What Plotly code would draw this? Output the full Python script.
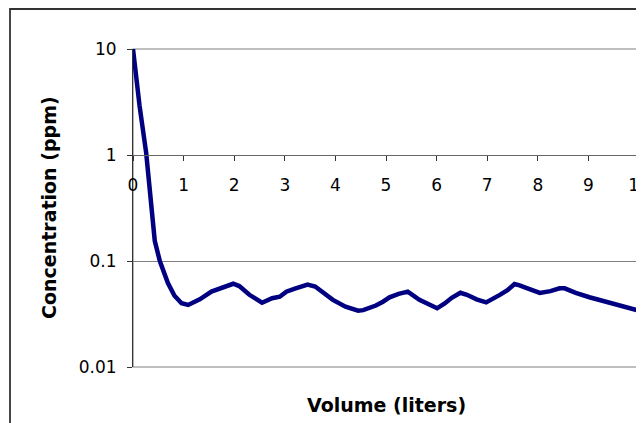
import plotly.graph_objects as go

# Data
volume_l = [0, 0.13, 0.26, 0.43, 0.53, 0.69, 0.82, 0.96, 1.09, 1.32, 1.55, 1.75, 1.98, 2.1,
            2.3, 2.55, 2.75, 2.9, 3.03, 3.2, 3.45, 3.6, 3.8, 3.95, 4.2, 4.45, 4.55, 4.8,
            4.94, 5.07, 5.25, 5.43, 5.66, 5.85, 6.01, 6.16, 6.3, 6.47, 6.6, 6.79, 6.98,
            7.25, 7.4, 7.54, 7.64, 7.85, 8.04, 8.25, 8.43, 8.53, 8.75, 9.02, 9.25, 9.49,
            9.75, 10.0]
conc_ppm = [10, 2.9, 1.05, 0.155, 0.10, 0.062, 0.047, 0.040, 0.0385, 0.0435, 0.0514, 0.056,
            0.061, 0.058, 0.048, 0.0404, 0.0445, 0.046, 0.0514, 0.055, 0.060, 0.0575, 0.049,
            0.043, 0.037, 0.034, 0.0344, 0.038, 0.0413, 0.0454, 0.049, 0.0514, 0.043, 0.039,
            0.0358, 0.0398, 0.045, 0.0502, 0.048, 0.0435, 0.0407, 0.0479, 0.053, 0.0607,
            0.059, 0.054, 0.050, 0.052, 0.0552, 0.0552, 0.050, 0.0455, 0.0427, 0.0399,
            0.037, 0.034]

y_tickvals = [0.01, 0.1, 1, 10]
y_ticktext = ["0.01", "0.1", "1", "10"]
x_tickvals = list(range(0, 11))
x_ticktext = [str(v) for v in x_tickvals]

x_title = "Volume (liters)"
y_title = "Concentration (ppm)"

# The page body has an 8px default margin, so the figure is offset by 8px.
OFF = 8
W, H = 644, 423
ML, MR, MT, MB = 125, 13, 41, 64
PW = W - ML - MR
PH = H - MT - MB

def px_x(p):
    # screen pixel -> paper x
    return (p - OFF - ML) / PW

def px_y(p):
    # screen pixel -> paper y
    return (H - MB - (p - OFF)) / PH

fig = go.Figure()
fig.add_trace(go.Scatter(
    x=volume_l, y=conc_ppm, mode="lines",
    line=dict(color="#000080", width=4.5),
    hoverinfo="skip", showlegend=False,
))

tick_font = dict(family="DejaVu Sans", size=17, color="black")
title_font = dict(family="DejaVu Sans", size=19, color="black", weight="bold")

fig.update_layout(
    width=W, height=H,
    margin=dict(l=ML, r=MR, t=MT, b=MB, pad=0, autoexpand=False),
    paper_bgcolor="white", plot_bgcolor="white",
    showlegend=False,
    xaxis=dict(
        range=[0, 10], tickvals=x_tickvals, ticktext=x_ticktext,
        anchor="free", position=2/3, side="bottom", automargin=False,
        showline=True, linecolor="#666666", linewidth=1,
        ticks="outside", ticklen=5, tickcolor="#333333", tickwidth=1,
        showgrid=False, zeroline=False, tickfont=tick_font,
        ticklabelstandoff=10, ticklabeloverflow="allow",
    ),
    yaxis=dict(
        type="log", range=[-2, 1], tickvals=y_tickvals, ticktext=y_ticktext,
        automargin=False,
        showline=True, linecolor="#333333", linewidth=1,
        ticks="outside", ticklen=5, tickcolor="#333333", tickwidth=1,
        showgrid=True, gridcolor="#808080", gridwidth=1,
        zeroline=False, tickfont=tick_font,
        ticklabelstandoff=7, ticklabeloverflow="allow",
    ),
    shapes=[
        # plot area border
        dict(type="rect", xref="x domain", yref="y domain", x0=0, x1=1, y0=0, y1=1,
             line=dict(color="#808080", width=1.2), layer="below"),
        # chart outer border (runs off the right and bottom edges)
        dict(type="rect", xref="paper", yref="paper",
             x0=px_x(10), x1=px_x(W + 30), y0=px_y(H + 30), y1=px_y(9),
             line=dict(color="#333333", width=1.8)),
    ],
    annotations=[
        dict(text=x_title, xref="paper", yref="paper", x=0.5, y=px_y(405),
             xanchor="center", yanchor="middle", showarrow=False, font=title_font),
        dict(text=y_title, xref="paper", yref="paper", x=px_x(49), y=0.5,
             xanchor="center", yanchor="middle", textangle=-90, showarrow=False,
             font=title_font),
    ],
)

fig.write_html("out.html")
